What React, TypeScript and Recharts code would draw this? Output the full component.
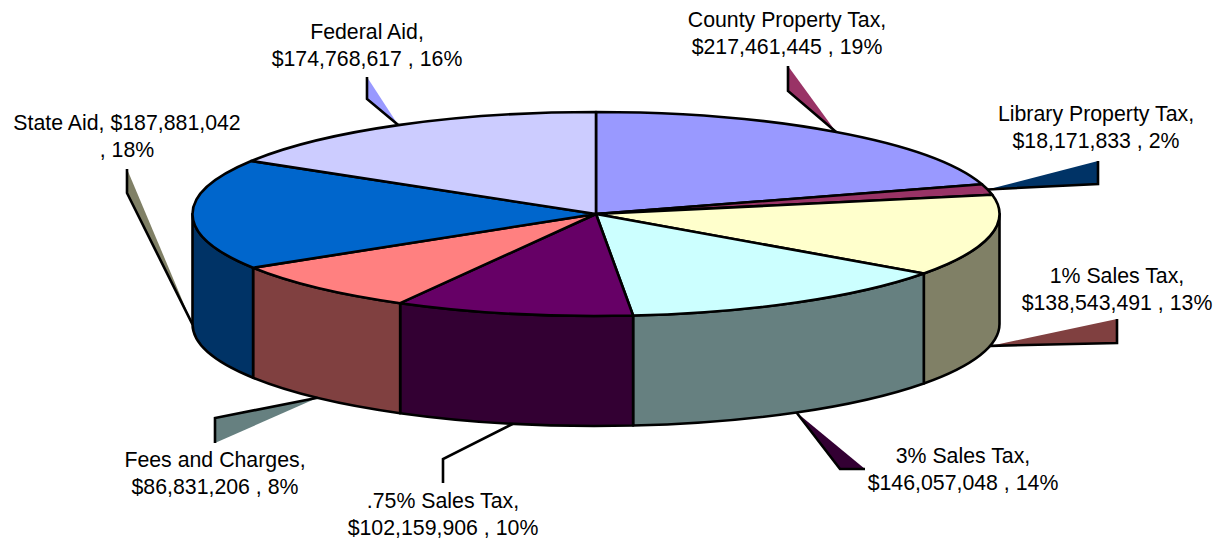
import React from "react";
import { PieChart, Pie } from "recharts";

const categories = ["County Property Tax", "Library Property Tax", "1% Sales Tax", "3% Sales Tax", ".75% Sales Tax", "Fees and Charges", "State Aid", "Federal Aid"];
const revenues = [217461445, 18171833, 138543491, 146057048, 102159906, 86831206, 187881042, 174768617];
const percents = [19, 2, 13, 14, 10, 8, 18, 16];
const topColors = ["#9999ff", "#993366", "#ffffcc", "#ccffff", "#660066", "#ff8080", "#0066cc", "#ccccff"];
const wallColors = ["#4d4d80", "#4d1a33", "#808066", "#668080", "#330033", "#804040", "#003366", "#666680"];
const leaderColors = ["#993366", "#003366", "#804040", "#330033", "#ffffff", "#668080", "#808066", "#9999ff"];

// Callout layout: leader elbow, leader end, label centre and first baseline
const leaderElbows = [[788, 91], [1098, 184], [1117, 343], [840, 469], [443, 459], [215, 418], [127, 193], [367, 99]];
const leaderEnds = [[788, 66], [1098, 161], [1117, 319], [865, 469], [443, 483], [215, 443], [127, 169], [367, 77]];
const labelAnchors = [[787, 27], [1096, 121], [1117, 283], [963, 463], [443, 508], [215, 467], [127, 130], [367, 39]];

const CX = 596;
const CY = 214;
const RX = 403.5;
const RY = 102;
const DEPTH = 110;
const LINE_HEIGHT = 26.5;
const FONT = "'Liberation Sans', Arial, sans-serif";

const tableData = categories.map((name, i) => ({
  name,
  value: revenues[i],
  fill: topColors[i],
  wall: wallColors[i],
}));

const rimPoint = (chartAngle: number, dy = 0): [number, number] => {
  const rad = (chartAngle * Math.PI) / 180;
  return [CX + RX * Math.cos(rad), CY - RY * Math.sin(rad) + dy];
};

const SliceShape = (props: any) => {
  const { startAngle, endAngle, fill, wall } = props;
  const [sx, sy] = rimPoint(startAngle);
  const [ex, ey] = rimPoint(endAngle);
  const large = Math.abs(startAngle - endAngle) > 180 ? 1 : 0;
  const top = `M${CX},${CY} L${sx},${sy} A${RX},${RY} 0 ${large} 1 ${ex},${ey} Z`;
  // the visible wall is the front half: chart angle 0 clockwise to -180
  const a1 = Math.min(startAngle, 0);
  const a2 = Math.max(endAngle, -180);
  let side: string | null = null;
  if (a1 > a2) {
    const [x1, y1] = rimPoint(a1);
    const [x2, y2] = rimPoint(a2);
    side = `M${x1},${y1} A${RX},${RY} 0 0 1 ${x2},${y2} L${x2},${y2 + DEPTH} A${RX},${RY} 0 0 0 ${x1},${y1 + DEPTH} Z`;
  }
  return (
    <g>
      {side && <path d={side} fill={wall} stroke="#000" strokeWidth={2.6} strokeLinejoin="round" />}
      <path d={top} fill={fill} stroke="#000" strokeWidth={2.6} strokeLinejoin="round" />
    </g>
  );
};

const money = (v: number) => "$" + v.toLocaleString("en-US");

const Callout = (props: any) => {
  const { index, midAngle } = props;
  const front = Math.sin((midAngle * Math.PI) / 180) < 0.01;
  const tip = rimPoint(midAngle, front ? DEPTH : 0);
  const elbow = leaderElbows[index];
  const end = leaderEnds[index];
  const [lx, ly] = labelAnchors[index];
  const name = categories[index];
  const val = money(revenues[index]);
  const pct = percents[index];
  const lines = name === "State Aid"
    ? [`${name}, ${val}`, `, ${pct}%`]
    : [`${name},`, `${val} , ${pct}%`];
  const pts = [end, elbow, tip].map((p) => p.join(",")).join(" ");
  return (
    <g>
      <polygon points={pts} fill={leaderColors[index]} stroke="none" />
      <polyline points={pts} fill="none" stroke="#000" strokeWidth={2.6} />
      <text textAnchor="middle" fontFamily={FONT} fontSize={21.3} fill="#000">
        {lines.map((t, i) => (
          <tspan key={i} x={lx} y={ly + i * LINE_HEIGHT}>{t}</tspan>
        ))}
      </text>
    </g>
  );
};

export default function App() {
  return (
    <div style={{ position: "absolute", left: 0, top: 0, width: 1219, height: 539, background: "#fff" }}>
      <PieChart width={1219} height={539} margin={{ top: 0, right: 0, bottom: 0, left: 0 }}>
        <Pie
          data={tableData}
          dataKey="value"
          nameKey="name"
          cx={CX}
          cy={CY}
          innerRadius={0}
          outerRadius={RX}
          startAngle={90}
          endAngle={-270}
          isAnimationActive={false}
          shape={SliceShape}
          label={Callout}
          labelLine={false}
          stroke="#000"
        />
      </PieChart>
    </div>
  );
}
